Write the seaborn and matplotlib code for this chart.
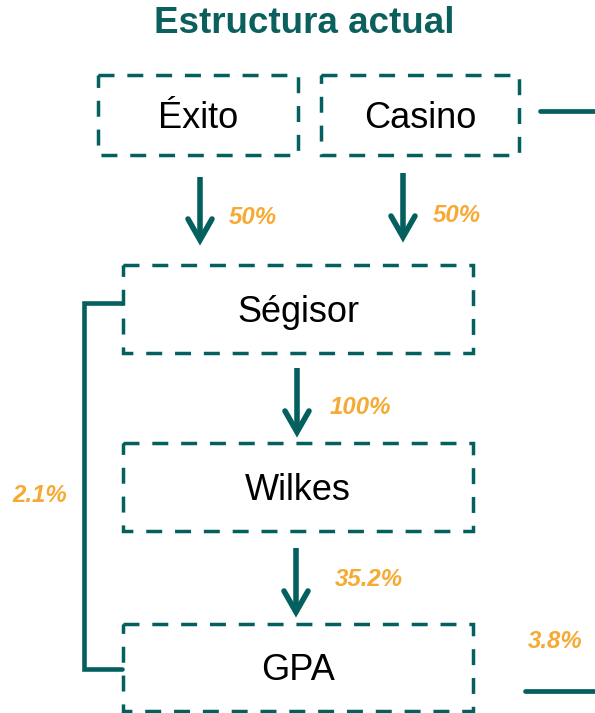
import matplotlib
matplotlib.use('Agg')
import matplotlib.pyplot as plt
from matplotlib.patches import Rectangle
import seaborn as sns

# chart content
title = 'Estructura actual'
entities = ['Éxito', 'Casino', 'Ségisor', 'Wilkes', 'GPA']
# ownership arrows: parent -> child and stake
arrow_from = ['Éxito', 'Casino', 'Ségisor', 'Wilkes']
arrow_stakes = ['50%', '50%', '100%', '35.2%']
# side links
bracket_stake = '2.1%'   # Ségisor -> GPA directly
casino_gpa_stake = '3.8%'  # Casino -> GPA (line going off the page)

# layout in pixels (x0, y0, x1, y1), y grows downward
boxes = {
    'Éxito': (98, 75, 298, 155),
    'Casino': (321, 75, 519, 155),
    'Ségisor': (123, 265, 473, 353),
    'Wilkes': (123, 443, 473, 531),
    'GPA': (123, 624, 473, 711),
}
arrows = {  # x, top, tip, label x offset, label y
    'Éxito': (200, 177, 240, 29, 218),
    'Casino': (403, 173, 237, 30, 215),
    'Ségisor': (297, 368, 432, 33, 407),
    'Wilkes': (296, 548, 612, 39, 580),
}

teal = '#04605F'
orange = '#F7AA33'

sns.set_theme(style='white')
plt.rcParams['font.family'] = ['Liberation Sans', 'DejaVu Sans']

fig = plt.figure(figsize=(5.95, 7.13), dpi=100)
ax = fig.add_axes([0, 0, 1, 1])
ax.set_xlim(0, 595)
ax.set_ylim(713, 0)
ax.axis('off')

ax.text(304, 33, title, ha='center', va='baseline', fontsize=26.5,
        fontweight='bold', color='#0B605D')

for name in entities:
    x0, y0, x1, y1 = boxes[name]
    r = Rectangle((x0, y0), x1 - x0, y1 - y0, fill=False, edgecolor=teal,
                  linewidth=2.5, linestyle=(0, (4.6, 3.7)))
    ax.add_patch(r)
    ax.text((x0 + x1) / 2, (y0 + y1) / 2 + 13, name, ha='center',
            va='baseline', fontsize=26, color='black')

for name, stake in zip(arrow_from, arrow_stakes):
    x, top, tip, dx, ly = arrows[name]
    ax.plot([x, x], [top, tip - 3], color=teal, lw=4, solid_capstyle='butt')
    ax.plot([x - 12, x, x + 12], [tip - 21, tip, tip - 21], color=teal, lw=4,
            solid_capstyle='round', solid_joinstyle='miter')
    ax.text(x + dx, ly, stake, ha='left', va='center', fontsize=17.3,
            fontweight='bold', fontstyle='italic', color=orange)

# bracket Ségisor -> GPA
ax.plot([122, 84, 84, 122], [303, 303, 669, 669], color=teal, lw=3.3,
        solid_joinstyle='miter')
ax.text(12, 495, bracket_stake, ha='left', va='center', fontsize=17.3,
        fontweight='bold', fontstyle='italic', color=orange)

# Casino -> GPA lines leaving the page
ax.plot([540, 595], [111, 111], color=teal, lw=3.4)
ax.plot([525, 595], [691, 691], color=teal, lw=3.4)
ax.text(528, 641, casino_gpa_stake, ha='left', va='center', fontsize=17.3,
        fontweight='bold', fontstyle='italic', color=orange)

fig.savefig('out.png', dpi=100)
